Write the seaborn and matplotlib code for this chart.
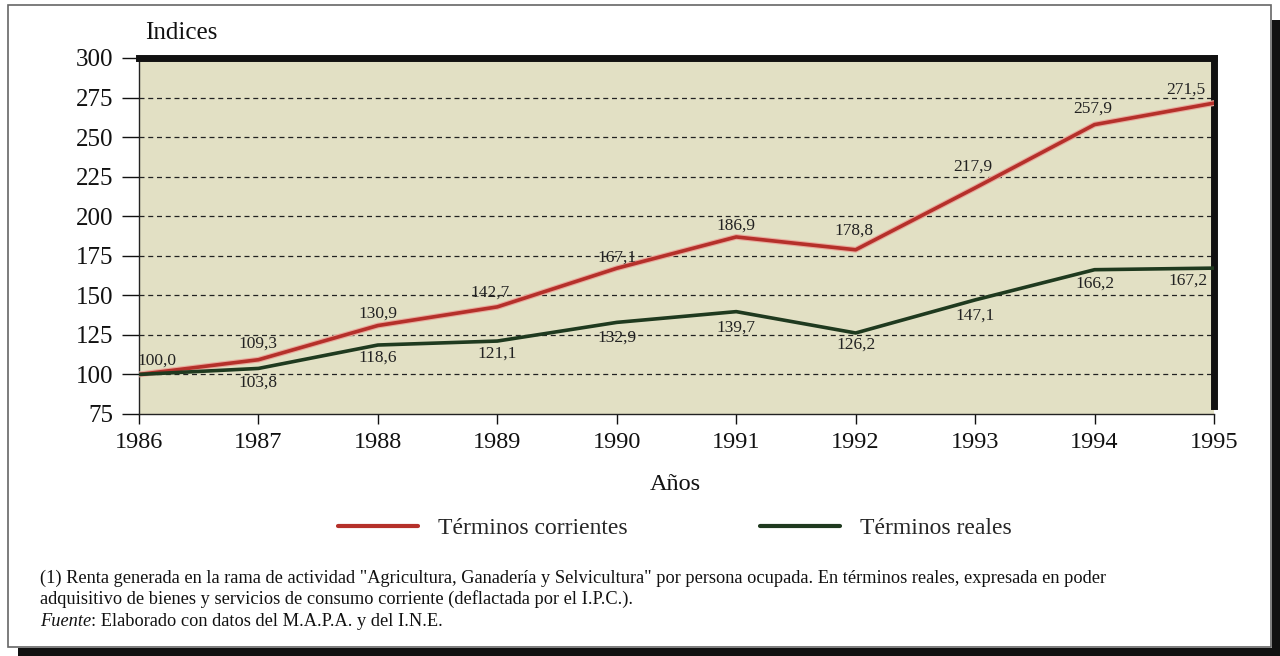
import matplotlib
matplotlib.use("Agg")
import matplotlib.pyplot as plt
import matplotlib.patheffects as pe
import pandas as pd
import seaborn as sns
from matplotlib.lines import Line2D
from matplotlib.patches import Rectangle

years = [1986, 1987, 1988, 1989, 1990, 1991, 1992, 1993, 1994, 1995]
corrientes = [100.0, 109.3, 130.9, 142.7, 167.1, 186.9, 178.8, 217.9, 257.9, 271.5]
reales = [100.0, 103.8, 118.6, 121.1, 132.9, 139.7, 126.2, 147.1, 166.2, 167.2]
y_ticks = [75, 100, 125, 150, 175, 200, 225, 250, 275, 300]
series_names = ["Términos corrientes", "Términos reales"]

# label offsets in pixels (dx, dy)
off_corr = [(18, 14), (0, 16), (0, 12), (-7, 14), (0, 11), (0, 11), (-2, 19), (-2, 21), (-2, 16), (-28, 13)]
off_real = [None, (0, -14), (0, -13), (0, -13), (0, -15), (0, -16), (0, -12), (0, -16), (0, -14), (-26, -13)]

RED = "#b5302a"
GREEN = "#1f3a1f"
BG = "#e2e0c4"

sns.set_style("white")
plt.rcParams["font.family"] = ["Liberation Serif", "DejaVu Serif"]

df = pd.DataFrame({
    "year": years * 2,
    "valor": corrientes + reales,
    "serie": [series_names[0]] * len(years) + [series_names[1]] * len(years),
})

fig = plt.figure(figsize=(12.8, 6.56), dpi=100)
fig.patch.set_facecolor("white")

# outer frame and drop shadow
fig.patches.append(Rectangle((1272 / 1280, 0), 8 / 1280, 1 - 20 / 656, transform=fig.transFigure,
                             facecolor="#111111", edgecolor="none", zorder=-2))
fig.patches.append(Rectangle((18 / 1280, 0), 1 - 18 / 1280, 8 / 656, transform=fig.transFigure,
                             facecolor="#111111", edgecolor="none", zorder=-2))
fig.patches.append(Rectangle((8 / 1280, 9 / 656), 1263 / 1280, 642 / 656, transform=fig.transFigure,
                             facecolor="white", edgecolor="#666666", linewidth=1.2, zorder=-1))

ax = fig.add_axes([139 / 1280, 1 - 414 / 656, 1075 / 1280, 356 / 656])
ax.set_facecolor(BG)

sns.lineplot(data=df, x="year", y="valor", hue="serie", palette=[RED, GREEN],
             linewidth=2.6, ax=ax, legend=False, zorder=3)
ax.lines[0].set_path_effects([pe.Stroke(linewidth=4.2, foreground="#e9a99c"), pe.Normal()])

for i, (x, v) in enumerate(zip(years, corrientes)):
    dx, dy = off_corr[i]
    ax.annotate(f"{v:.1f}".replace(".", ","), (x, v), xytext=(dx, dy), textcoords="offset pixels",
                ha="center", va="center", fontsize=12.5, color="#222222", zorder=4)
for i, (x, v) in enumerate(zip(years, reales)):
    if off_real[i] is None:
        continue
    dx, dy = off_real[i]
    ax.annotate(f"{v:.1f}".replace(".", ","), (x, v), xytext=(dx, dy), textcoords="offset pixels",
                ha="center", va="center", fontsize=12.5, color="#222222", zorder=4)

ax.set_xlim(1986, 1995)
ax.set_ylim(75, 300)
ax.set_xticks(years)
ax.set_yticks(y_ticks)
ax.set_xlabel("")
ax.set_ylabel("")
for t in y_ticks[1:-1]:
    ax.axhline(t, color="#222222", linewidth=0.9, linestyle=(0, (4, 3)), zorder=1)

ax.tick_params(axis="y", left=True, direction="out", length=12, width=1, labelsize=18, pad=6.5,
               colors="#111111")
ax.tick_params(axis="x", bottom=True, direction="out", length=7, width=1, labelsize=17.5, pad=6,
               colors="#111111")

ax.spines["left"].set_linewidth(1)
ax.spines["bottom"].set_linewidth(1)
ax.spines["left"].set_color("#222222")
ax.spines["bottom"].set_color("#222222")
ax.spines["top"].set_linewidth(5)
ax.spines["top"].set_color("#111111")
ax.spines["right"].set_linewidth(5)
ax.spines["right"].set_color("#111111")
ax.spines["right"].set_bounds(80, 300)

fig.text(145 / 1280, 1 - 33 / 656, "Indices", fontsize=18, ha="left", va="center", color="#111111")
fig.text(675 / 1280, 1 - 485 / 656, "Años", fontsize=17.5, ha="center", va="center", color="#111111")

handles = [Line2D([], [], color=RED, linewidth=3), Line2D([], [], color=GREEN, linewidth=3)]
fig.legend(handles, series_names, loc="center", bbox_to_anchor=(675 / 1280, 1 - 528 / 656), ncol=2,
           frameon=False, fontsize=17, handlelength=3.4, columnspacing=5.6, handletextpad=0.85)

fig.text(40 / 1280, 1 - 578 / 656,
         "(1) Renta generada en la rama de actividad \"Agricultura, Ganadería y Selvicultura\" por persona ocupada. "
         "En términos reales, expresada en poder",
         fontsize=13.2, ha="left", va="center", color="#111111")
fig.text(40 / 1280, 1 - 599 / 656,
         "adquisitivo de bienes y servicios de consumo corriente (deflactada por el I.P.C.).",
         fontsize=13.2, ha="left", va="center", color="#111111")
src = fig.text(40 / 1280, 1 - 622 / 656, "Fuente", fontsize=13.2, style="italic",
               ha="left", va="center", color="#111111")
fig.texts.append(matplotlib.text.Annotation(": Elaborado con datos del M.A.P.A. y del I.N.E.",
                                            xy=(1, 0.5), xycoords=src, ha="left", va="center",
                                            fontsize=13.2, color="#111111", annotation_clip=False))
fig.texts[-1].set_figure(fig)

fig.savefig("out.png", dpi=100)
